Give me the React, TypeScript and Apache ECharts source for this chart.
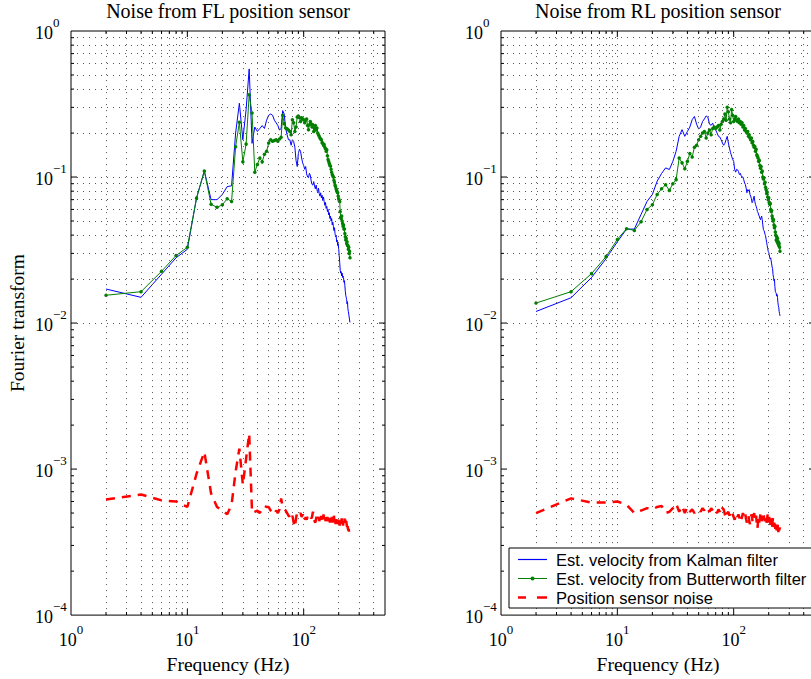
import React, { useEffect, useRef } from 'react';
import * as echarts from 'echarts';

const SERIF = 'Liberation Serif';
const SANS = 'Liberation Sans';

const FREQ = [
  2, 4, 6, 8, 10, 12, 14, 16, 18, 20, 22, 24, 26, 28, 30, 32, 34, 36, 38, 40,
  42, 44, 46, 48, 50, 52, 54, 56, 58, 60, 62, 64, 66, 68, 70, 72, 74, 76, 78, 80,
  82, 84, 86, 88, 90, 92, 94, 96, 98, 100, 102, 104, 106, 108, 110, 112, 114, 116, 118, 120,
  122, 124, 126, 128, 130, 132, 134, 136, 138, 140, 142, 144, 146, 148, 150, 152, 154, 156, 158, 160,
  162, 164, 166, 168, 170, 172, 174, 176, 178, 180, 182, 184, 186, 188, 190, 192, 194, 196, 198, 200,
  202, 204, 206, 208, 210, 212, 214, 216, 218, 220, 222, 224, 226, 228, 230, 232, 234, 236, 238, 240,
  242, 244, 246, 248, 250,
];

// FL sensor
const KALMAN_FL = [
  0.0171, 0.0150, 0.0216, 0.028, 0.032, 0.072, 0.110, 0.070, 0.070, 0.076, 0.086, 0.087, 0.20, 0.32, 0.18, 0.29, 0.55, 0.17, 0.22, 0.205,
  0.215, 0.225, 0.215, 0.245, 0.265, 0.27, 0.265, 0.245, 0.235, 0.225, 0.21, 0.215, 0.285, 0.27, 0.215, 0.195, 0.18, 0.18, 0.165, 0.18,
  0.175, 0.16, 0.13, 0.118, 0.145, 0.155, 0.15, 0.135, 0.125, 0.12,
  0.113, 0.118, 0.105, 0.100, 0.099, 0.106, 0.103, 0.094, 0.089, 0.088,
  0.093, 0.087, 0.083, 0.088, 0.082, 0.078, 0.084, 0.077, 0.074, 0.078,
  0.072, 0.075, 0.069, 0.073, 0.068, 0.064, 0.067, 0.061, 0.063, 0.058,
  0.060, 0.055, 0.057, 0.052, 0.054, 0.050, 0.052, 0.047, 0.049, 0.046,
  0.043, 0.045, 0.041, 0.039, 0.040, 0.036, 0.037, 0.034, 0.035, 0.032,
  0.029, 0.026, 0.023, 0.022, 0.0225, 0.021, 0.022, 0.0205, 0.021, 0.0205,
  0.019, 0.0195, 0.018, 0.0165, 0.0155, 0.015, 0.0145, 0.0135, 0.014, 0.0125,
  0.012, 0.0115, 0.011, 0.0105, 0.0101,
];
const BUTTER_FL = [
  0.0155, 0.0164, 0.0226, 0.029, 0.033, 0.0717, 0.110, 0.065, 0.062, 0.0646, 0.071, 0.068, 0.161, 0.237, 0.127, 0.168, 0.366, 0.274, 0.108, 0.122,
  0.135, 0.127, 0.143, 0.150, 0.171, 0.180, 0.176, 0.178, 0.180, 0.176,
  0.182, 0.187, 0.265, 0.232, 0.217, 0.214, 0.21, 0.205, 0.195, 0.247,
  0.235, 0.205, 0.22, 0.258, 0.262, 0.255, 0.24, 0.255, 0.25, 0.247,
  0.235, 0.245, 0.25, 0.225, 0.211, 0.228, 0.24, 0.232, 0.22, 0.228,
  0.205, 0.215, 0.225, 0.21, 0.217, 0.2, 0.195, 0.19, 0.185, 0.182,
  0.18, 0.172, 0.17, 0.165, 0.167, 0.16, 0.156, 0.15, 0.154, 0.14,
  0.132, 0.128, 0.124, 0.12, 0.119, 0.113, 0.108, 0.104, 0.102, 0.100,
  0.095, 0.092, 0.088, 0.086, 0.083, 0.081, 0.079, 0.078, 0.074, 0.071,
  0.069, 0.068, 0.058, 0.053, 0.052, 0.054, 0.05, 0.048, 0.046, 0.047,
  0.044, 0.044, 0.041, 0.039, 0.037, 0.038, 0.035, 0.036, 0.034, 0.034,
  0.032, 0.033, 0.030, 0.031, 0.028,
];
const NOISE_FL = [
  6.2e-4, 6.7e-4, 6.1e-4, 6.0e-4, 5.5e-4, 9.3e-4, 1.31e-3, 6.8e-4, 5.5e-4, 5.2e-4, 4.9e-4, 5.7e-4, 9.6e-4, 1.38e-3, 7.8e-4, 1.18e-3, 1.75e-3, 5.0e-4, 5.1e-4, 5.2e-4,
  5.0e-4, 5.4e-4, 5.6e-4, 5.5e-4, 5.5e-4, 5.2e-4, 5.0e-4, 4.9e-4, 5.2e-4, 5.0e-4,
  5.3e-4, 6.3e-4, 5.5e-4, 5.3e-4, 5.2e-4, 5.0e-4, 4.8e-4, 4.7e-4, 4.5e-4, 4.8e-4,
  4.3e-4, 4.0e-4, 4.6e-4, 5.1e-4, 5.0e-4, 4.9e-4, 5.0e-4, 4.7e-4, 4.9e-4, 4.6e-4,
  4.4e-4, 4.7e-4, 4.5e-4, 4.7e-4, 4.6e-4, 4.5e-4, 4.7e-4, 4.6e-4, 4.7e-4, 5.1e-4,
  4.9e-4, 4.4e-4, 4.3e-4, 4.6e-4, 4.8e-4, 4.5e-4, 4.7e-4, 4.4e-4, 4.6e-4, 5.0e-4,
  4.5e-4, 4.7e-4, 4.3e-4, 4.9e-4, 4.5e-4, 4.8e-4, 4.4e-4, 4.6e-4, 4.2e-4, 4.7e-4,
  4.4e-4, 4.5e-4, 4.8e-4, 4.3e-4, 4.6e-4, 4.4e-4, 4.7e-4, 4.3e-4, 4.5e-4, 4.4e-4,
  4.8e-4, 4.3e-4, 4.6e-4, 4.2e-4, 4.5e-4, 4.4e-4, 4.7e-4, 4.2e-4, 4.5e-4, 4.3e-4,
  4.6e-4, 4.1e-4, 4.4e-4, 4.5e-4, 4.2e-4, 4.6e-4, 4.3e-4, 4.5e-4, 4.1e-4, 4.4e-4,
  4.2e-4, 4.6e-4, 4.3e-4, 4.5e-4, 4.1e-4, 4.4e-4, 4.2e-4, 4.0e-4, 4.3e-4, 3.9e-4,
  3.8e-4, 3.9e-4, 3.6e-4, 3.5e-4, 3.4e-4,
];

// RL sensor
const KALMAN_RL = [
  0.012, 0.0149, 0.0205, 0.0276, 0.036, 0.044, 0.044, 0.0555, 0.068, 0.076, 0.0937, 0.1057, 0.1155, 0.1125,
  0.128, 0.15, 0.19, 0.211, 0.19, 0.205, 0.22, 0.247, 0.26, 0.23,
  0.213, 0.22, 0.24, 0.25, 0.262, 0.257, 0.23, 0.226, 0.234, 0.216,
  0.21, 0.2, 0.19, 0.188, 0.18, 0.171, 0.165, 0.17, 0.18, 0.19,
  0.171, 0.158, 0.147, 0.139, 0.132, 0.128, 0.1125, 0.108, 0.113, 0.112,
  0.109, 0.104, 0.106, 0.102, 0.1, 0.1, 0.096, 0.091, 0.089, 0.084,
  0.078, 0.082, 0.08, 0.082, 0.076, 0.074, 0.071, 0.0667, 0.068, 0.072,
  0.074, 0.068, 0.065, 0.063, 0.061, 0.058, 0.057, 0.055, 0.054, 0.052,
  0.051, 0.053, 0.054, 0.051, 0.047, 0.0438, 0.043, 0.042, 0.0405, 0.0395,
  0.0375, 0.0356, 0.034, 0.0325, 0.031, 0.0305, 0.0295, 0.028, 0.0275, 0.028,
  0.0267, 0.0254, 0.0242, 0.0236, 0.0215, 0.0205, 0.0195, 0.02, 0.0178, 0.0165,
  0.0162, 0.016, 0.0153, 0.0157, 0.015, 0.0138, 0.0132, 0.0128, 0.012, 0.0116, 0.0112,
];
const BUTTER_RL = [
  0.0137, 0.0164, 0.0218, 0.0285, 0.0374, 0.0443, 0.0431, 0.0494, 0.060, 0.0646, 0.076, 0.083, 0.0885, 0.081,
  0.09, 0.096, 0.135, 0.125, 0.114, 0.128, 0.145, 0.137, 0.16, 0.165,
  0.18, 0.19, 0.2, 0.205, 0.185, 0.2, 0.21, 0.195, 0.215, 0.22,
  0.215, 0.22, 0.225, 0.21, 0.23, 0.24, 0.25, 0.27, 0.245, 0.30,
  0.28, 0.25, 0.235, 0.29, 0.265, 0.24, 0.25, 0.26, 0.245, 0.24,
  0.25, 0.235, 0.24, 0.23, 0.235, 0.22, 0.225, 0.21, 0.215, 0.205,
  0.2, 0.205, 0.19, 0.195, 0.185, 0.18, 0.185, 0.172, 0.175, 0.165,
  0.16, 0.162, 0.15, 0.155, 0.142, 0.139, 0.135, 0.128, 0.13, 0.12,
  0.115, 0.118, 0.108, 0.11, 0.1, 0.097, 0.099, 0.09, 0.092, 0.085,
  0.082, 0.077, 0.079, 0.073, 0.07, 0.072, 0.067, 0.065, 0.066, 0.06,
  0.058, 0.059, 0.054, 0.052, 0.05, 0.051, 0.047, 0.045, 0.046, 0.042,
  0.04, 0.037, 0.039, 0.036, 0.038, 0.035, 0.036, 0.034, 0.035, 0.033, 0.031,
];
const NOISE_RL = [
  5.0e-4, 6.3e-4, 5.9e-4, 5.9e-4, 6.0e-4, 5.7e-4, 5.0e-4, 5.2e-4, 5.4e-4, 5.3e-4,
  5.5e-4, 5.6e-4, 5.0e-4, 5.1e-4, 5.4e-4, 5.8e-4, 5.1e-4, 5.6e-4, 5.0e-4, 5.5e-4,
  5.1e-4, 5.3e-4, 5.0e-4, 5.2e-4, 5.3e-4, 5.1e-4, 5.4e-4, 5.2e-4, 5.5e-4, 5.3e-4,
  5.1e-4, 5.4e-4, 5.2e-4, 5.0e-4, 5.2e-4, 5.0e-4, 5.3e-4, 5.1e-4, 5.6e-4, 5.4e-4,
  5.3e-4, 4.9e-4, 4.6e-4, 5.0e-4, 5.1e-4, 4.8e-4, 5.1e-4, 5.2e-4, 4.9e-4, 4.7e-4,
  4.5e-4, 4.8e-4, 5.0e-4, 4.7e-4, 4.9e-4, 4.6e-4, 4.8e-4, 4.5e-4, 4.7e-4, 5.0e-4,
  4.8e-4, 4.6e-4, 4.9e-4, 4.5e-4, 4.3e-4, 4.6e-4, 4.8e-4, 4.4e-4, 4.2e-4, 4.5e-4,
  4.9e-4, 4.6e-4, 4.3e-4, 4.7e-4, 5.0e-4, 4.6e-4, 4.4e-4, 4.8e-4, 4.2e-4, 3.9e-4,
  4.4e-4, 4.7e-4, 4.3e-4, 4.6e-4, 5.0e-4, 4.6e-4, 4.8e-4, 4.4e-4, 4.5e-4, 4.9e-4,
  4.7e-4, 4.5e-4, 4.6e-4, 4.3e-4, 4.1e-4, 4.4e-4, 4.6e-4, 4.9e-4, 4.5e-4, 4.3e-4,
  4.7e-4, 4.4e-4, 4.1e-4, 4.5e-4, 4.6e-4, 4.2e-4, 4.0e-4, 4.4e-4, 4.7e-4, 4.3e-4,
  4.0e-4, 4.5e-4, 4.2e-4, 3.9e-4, 4.3e-4, 4.1e-4, 3.8e-4, 4.2e-4, 4.4e-4, 3.9e-4,
  3.7e-4, 4.1e-4, 3.8e-4, 3.9e-4, 4.0e-4,
];

const TITLES = ['Noise from FL position sensor', 'Noise from RL position sensor'];
const NAMES = ['Est. velocity from Kalman filter', 'Est. velocity from Butterworth filter', 'Position sensor noise'];
const X_MIN = 1;
const X_MAX = 500;
const Y_MIN = 1e-4;
const Y_MAX = 1;
const X_MAJOR = [10, 100];
const X_MINOR = [2, 3, 4, 5, 6, 7, 8, 9, 20, 30, 40, 50, 60, 70, 80, 90, 200, 300, 400];
const Y_MAJOR = [1e-3, 1e-2, 1e-1];
const Y_MINOR = [
  2e-4, 3e-4, 4e-4, 5e-4, 6e-4, 7e-4, 8e-4, 9e-4,
  2e-3, 3e-3, 4e-3, 5e-3, 6e-3, 7e-3, 8e-3, 9e-3,
  2e-2, 3e-2, 4e-2, 5e-2, 6e-2, 7e-2, 8e-2, 9e-2,
  2e-1, 3e-1, 4e-1, 5e-1, 6e-1, 7e-1, 8e-1, 9e-1,
];

const GRIDS = [
  { left: 71, top: 31, width: 314, height: 586 },
  { left: 501, top: 31, width: 314, height: 586 },
];

// legend icons (shape only)
const ICON_LINE = 'path://M0,0 L29,0 L29,1.2 L0,1.2 Z';
const ICON_DOT = 'path://M0,1.4 L29,1.4 L29,2.6 L0,2.6 Z M12.5,2 A2,2 0 1 1 16.5,2 A2,2 0 1 1 12.5,2 Z';
const ICON_DASH = 'path://M0,0 L8,0 L8,2.5 L0,2.5 Z M19,0 L29,0 L29,2.5 L19,2.5 Z';

function powLabel(v: number) {
  const e = Math.log10(v);
  const r = Math.round(e);
  if (Math.abs(e - r) > 1e-6) return '';
  const s = r < 0 ? '\u2212' + Math.abs(r) : String(r);
  return `{b|10}{s|${s}}`;
}

const RICH = {
  b: { fontFamily: SERIF, fontSize: 18, lineHeight: 18, verticalAlign: 'bottom', color: '#000' },
  s: { fontFamily: SERIF, fontSize: 13, lineHeight: 26, verticalAlign: 'top', color: '#000' },
};

function frameSeries(gi: number) {
  const pts: any[] = [];
  const tk = (coord: number[], size: number[], off: number[]) => ({
    coord, symbol: 'rect', symbolSize: size, symbolOffset: off,
  });
  const add = (xs: number[], len: number) => {
    xs.forEach((x) => {
      pts.push(tk([x, Y_MIN], [1, len], [0, -len / 2]));
      pts.push(tk([x, Y_MAX], [1, len], [0, len / 2]));
    });
  };
  const addY = (ys: number[], len: number) => {
    ys.forEach((y) => {
      pts.push(tk([X_MIN, y], [len, 1], [len / 2, 0]));
      pts.push(tk([X_MAX, y], [len, 1], [-len / 2, 0]));
    });
  };
  add(X_MINOR, 3);
  add(X_MAJOR, 6);
  addY(Y_MINOR, 3);
  addY(Y_MAJOR, 6);
  const lines: any[] = [];
  [...X_MINOR, ...X_MAJOR].forEach((x) => lines.push({ xAxis: x }));
  [...Y_MINOR, ...Y_MAJOR].forEach((y) => lines.push({ yAxis: y }));
  return {
    name: 'frame' + gi,
    type: 'line',
    xAxisIndex: gi,
    yAxisIndex: gi,
    data: [],
    silent: true,
    z: 1,
    markLine: {
      silent: true,
      symbol: ['none', 'none'],
      label: { show: false },
      lineStyle: { type: [1, 5], color: '#555', width: 1 },
      data: lines,
    },
    markPoint: {
      silent: true,
      label: { show: false },
      itemStyle: { color: '#000' },
      data: pts,
    },
  };
}

function dataSeries(gi: number, k: number[], b: number[], n: number[]) {
  return [
    {
      name: NAMES[0], type: 'line', xAxisIndex: gi, yAxisIndex: gi, z: 3,
      data: FREQ.map((f, i) => [f, k[i]]),
      symbol: 'none', lineStyle: { color: '#0000ff', width: 1 }, itemStyle: { color: '#0000ff' },
    },
    {
      name: NAMES[1], type: 'line', xAxisIndex: gi, yAxisIndex: gi, z: 4,
      data: FREQ.map((f, i) => [f, b[i]]),
      symbol: 'circle', symbolSize: 3.5, showSymbol: true, showAllSymbol: true,
      lineStyle: { color: '#008000', width: 1 }, itemStyle: { color: '#008000' },
    },
    {
      name: NAMES[2], type: 'line', xAxisIndex: gi, yAxisIndex: gi, z: 5,
      data: FREQ.map((f, i) => [f, n[i]]),
      symbol: 'none', lineStyle: { color: '#ff0000', width: 2.5, type: [9, 7] }, itemStyle: { color: '#ff0000' },
    },
  ];
}

export default function App() {
  const ref = useRef<HTMLDivElement>(null);
  useEffect(() => {
    if (!ref.current) return;
    const chart = echarts.init(ref.current, undefined, { renderer: 'svg' });
    const option: any = {
      animation: false,
      backgroundColor: '#fff',
      grid: GRIDS.map((g) => ({ ...g, show: true, borderColor: '#000', borderWidth: 1, backgroundColor: 'transparent' })),
      graphic: TITLES.map((t, i) => ({
        type: 'text',
        x: GRIDS[i].left + GRIDS[i].width / 2,
        y: 11,
        style: { text: t, fontFamily: SERIF, fontSize: 20, fill: '#000', align: 'center', verticalAlign: 'middle' },
      })),
      xAxis: GRIDS.map((_, i) => ({
        type: 'log', logBase: 10, gridIndex: i, min: X_MIN, max: X_MAX,
        axisLine: { show: false }, axisTick: { show: false }, splitLine: { show: false },
        axisLabel: { formatter: powLabel, rich: RICH, fontFamily: SERIF, fontSize: 18, color: '#000', margin: 8, interval: 0, showMinLabel: true, showMaxLabel: true, hideOverlap: false },
        name: 'Frequency (Hz)', nameLocation: 'middle', nameGap: 31,
        nameTextStyle: { fontFamily: SERIF, fontSize: 19.5, color: '#000' },
      })),
      yAxis: GRIDS.map((_, i) => ({
        type: 'log', logBase: 10, gridIndex: i, min: Y_MIN, max: Y_MAX,
        axisLine: { show: false }, axisTick: { show: false }, splitLine: { show: false },
        axisLabel: { formatter: powLabel, rich: RICH, fontFamily: SERIF, fontSize: 18, color: '#000', margin: 36, align: 'left', interval: 0, padding: [0, 0, 4, 0], showMinLabel: true, showMaxLabel: true, hideOverlap: false },
        name: i === 0 ? 'Fourier transform' : '', nameLocation: 'middle', nameGap: 44, nameRotate: 90,
        nameTextStyle: { fontFamily: SERIF, fontSize: 19.5, color: '#000' },
      })),
      legend: {
        data: [
          { name: NAMES[0], icon: ICON_LINE },
          { name: NAMES[1], icon: ICON_DOT },
          { name: NAMES[2], icon: ICON_DASH },
        ],
        orient: 'vertical',
        left: 509,
        top: 548,
        padding: [3, 8, 2, 9],
        itemGap: 2,
        itemWidth: 29,
        itemHeight: 14,
        itemStyle: { borderWidth: 0 },
        backgroundColor: '#fff',
        borderColor: '#000',
        borderWidth: 1,
        borderRadius: 0,
        selectedMode: false,
        textStyle: { fontFamily: SANS, fontSize: 16.5, color: '#000', padding: [0, 0, 0, 4] },
        z: 20,
      },
      series: [
        frameSeries(0),
        frameSeries(1),
        ...dataSeries(0, KALMAN_FL, BUTTER_FL, NOISE_FL),
        ...dataSeries(1, KALMAN_RL, BUTTER_RL, NOISE_RL),
      ],
    };
    chart.setOption(option);
    return () => chart.dispose();
  }, []);
  return (
    <div style={{ position: 'fixed', left: 0, top: 0, width: 811, height: 679, overflow: 'hidden', background: '#fff' }}>
      <div ref={ref} style={{ width: 830, height: 679 }} />
    </div>
  );
}
